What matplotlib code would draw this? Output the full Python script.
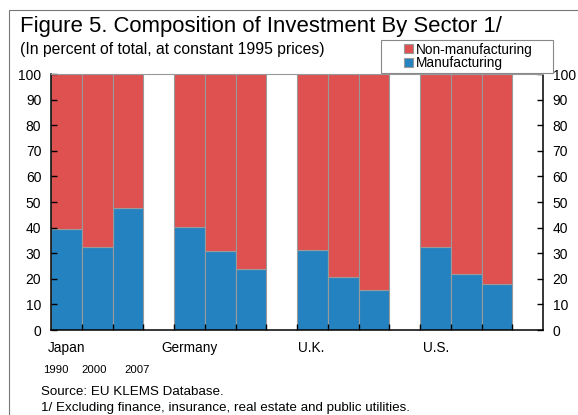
import numpy as np
import matplotlib
matplotlib.use("Agg")
import matplotlib.pyplot as plt
from matplotlib.patches import Rectangle

plt.rcParams['font.family'] = ['Liberation Sans', 'DejaVu Sans']

# data
countries = ["Japan", "Germany", "U.K.", "U.S."]
years = ["1990", "2000", "2007"]
manufacturing = [
    [39.3, 32.5, 47.8],   # Japan
    [40.4, 30.9, 24.0],   # Germany
    [31.3, 20.8, 15.5],   # U.K.
    [32.3, 22.0, 18.1],   # U.S.
]

red = "#df5050"
blue = "#2582c1"

fig = plt.figure(figsize=(5.78, 4.15), dpi=100)
ax = fig.add_axes([51 / 578, 1 - 330 / 415, 492 / 578, 256 / 415])

# each country gets 4 slots: 3 bars and one empty slot
xs, manu = [], []
for g, vals in enumerate(manufacturing):
    for j, v in enumerate(vals):
        xs.append(g * 4 + j + 0.5)
        manu.append(v)
xs = np.array(xs)
manu = np.array(manu)
nonmanu = 100 - manu

ax.bar(xs, manu, width=1.0, color=blue, edgecolor="#9a9a9a", linewidth=0.8,
       label="Manufacturing")
ax.bar(xs, nonmanu, bottom=manu, width=1.0, color=red, edgecolor="#9a9a9a",
       linewidth=0.8, label="Non-manufacturing")

ax.set_xlim(0, 16)
ax.set_ylim(0, 100)
ax.set_yticks(range(0, 101, 10))
ax.set_xticks(range(1, 16))
ax.set_xticklabels([])
ax.tick_params(axis='x', direction='in', length=4, width=1)
ax.tick_params(axis='y', direction='in', length=4, width=1, labelsize=10,
               left=True, right=True, labelleft=True, labelright=True, pad=7)
for s in ["left", "right", "bottom"]:
    ax.spines[s].set_linewidth(1.1)
ax.spines["top"].set_color("#999999")
ax.spines["top"].set_linewidth(0.8)

# group labels
label_x = [-0.1, 3.6, 8.03, 12.1]
for name, lx in zip(countries, label_x):
    ax.text(lx, -0.085, name, transform=ax.get_xaxis_transform(),
            ha="left", va="baseline", fontsize=9.8)
year_x = [-0.26, 0.98, 2.37]
for yr, yx in zip(years, year_x):
    ax.text(yx, -0.168, yr, transform=ax.get_xaxis_transform(),
            ha="left", va="baseline", fontsize=8.2)

# titles and notes
fig.text(20 / 578, 1 - 32 / 415, "Figure 5. Composition of Investment By Sector 1/",
         fontsize=15.9, ha="left", va="baseline")
fig.text(20 / 578, 1 - 54 / 415, "(In percent of total, at constant 1995 prices)",
         fontsize=11.3, ha="left", va="baseline")
fig.text(41 / 578, 1 - 395 / 415, "Source: EU KLEMS Database.",
         fontsize=9.6, ha="left", va="baseline")
fig.text(41 / 578, 1 - 411 / 415,
         "1/ Excluding finance, insurance, real estate and public utilities.",
         fontsize=9.6, ha="left", va="baseline")

# legend: box drawn separately, entries placed inside it
fig.patches.append(Rectangle((381 / 578, 1 - 73 / 415), 172 / 578, 33 / 415,
                             transform=fig.transFigure, facecolor="white",
                             edgecolor="#888888", linewidth=0.8, zorder=4))
h, l = ax.get_legend_handles_labels()
leg = fig.legend(h[::-1], l[::-1], loc="upper left",
                 bbox_to_anchor=(403 / 578, 1 - 42 / 415),
                 fontsize=9.8, frameon=False,
                 handlelength=0.65, handleheight=0.65, handletextpad=0.25,
                 borderpad=0.05, labelspacing=-0.05, borderaxespad=0)
leg.set_zorder(5)

# outer frame
fig.patches.append(Rectangle((9 / 578, -0.1), 1.2, 1 - 10 / 415 + 0.1,
                             transform=fig.transFigure, fill=False,
                             edgecolor="#777777", linewidth=0.8))

fig.savefig("out.png", dpi=100)
